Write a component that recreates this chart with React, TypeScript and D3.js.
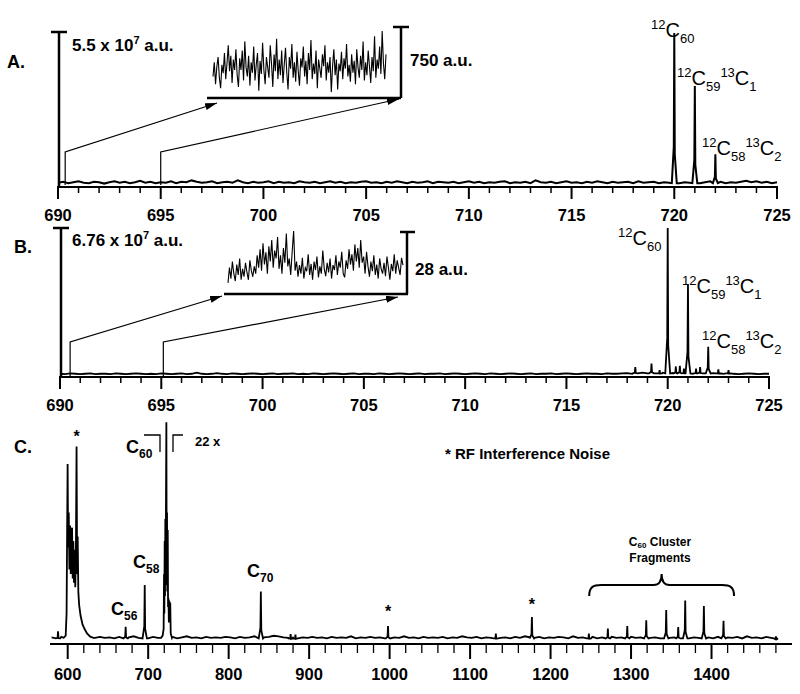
import React from "react";
import * as d3 from "d3";

// ---------- tick labels ----------
const abTickLabels = [690, 695, 700, 705, 710, 715, 720, 725];
const cTickLabels = [600, 700, 800, 900, 1000, 1100, 1200, 1300, 1400];

// ---------- Panel A ----------
const aPeaks: [number, number][] = [
  [720, 1.0],
  [721, 0.65],
  [722, 0.2],
];
// baseline noise, units of 0.003, evenly spaced 690..725
const aBaseline = [
  4, 6, 3, 5, 7, 4, 3, 6, 5, 2, 5, 7, 4, 6, 3, 5, 8, 4, 6, 3, 5, 4, 7, 3, 6, 5, 9, 6, 4, 5,
  7, 3, 5, 6, 4, 9, 5, 3, 6, 4, 5, 7, 3, 6, 4, 5, 3, 7, 5, 4, 6, 3, 5, 7, 4, 6, 3, 5, 4, 6,
  7, 4, 5, 3, 6, 4, 7, 5, 3, 6, 4, 5, 7, 3, 6, 5, 4, 6, 3, 5, 7, 4, 6, 3, 5, 4, 6, 7, 3, 5,
  4, 6, 3, 9, 5, 4, 6, 3, 5, 7, 4, 5, 3, 6, 4, 7, 5, 3, 6, 4, 5, 6, 3, 7, 4, 5, 6, 3, 5, 4,
  6, 3, 5, 4, 6, 3, 5, 7, 4, 6, 3, 5, 4, 6, 8, 5, 7, 4, 6, 3, 5,
];
// zoomed noise trace (0..100 of the 750 a.u. bar)
const aInset = [
  30, 52, 18, 45, 60, 28, 12, 48, 35, 66, 26, 50, 78, 38, 62, 20, 56, 40, 72, 32, 14, 58, 40,
  70, 24, 84, 44, 30, 62, 16, 52, 36, 76, 24, 48, 66, 8, 54, 34, 82, 40, 18, 60, 44, 28, 78,
  50, 14, 64, 38, 88, 26, 56, 32, 70, 20, 48, 74, 36, 10, 60, 42, 80, 28, 52, 22, 68, 38, 16,
  58, 44, 76, 30, 54, 18, 66, 40, 86, 26, 50, 34, 70, 12, 56, 42, 28, 64, 46, 78, 24, 52, 36,
  60, 6, 46, 72, 32, 56, 10, 50, 38, 68, 26, 58, 42, 80, 30, 48, 22, 64, 36, 54, 18, 72, 44,
  28, 62, 40, 84, 24, 52, 32, 70, 46, 20, 60, 38, 92, 28, 56, 42, 76, 34, 100, 50, 26, 64,
];

// ---------- Panel B ----------
const bPeaks: [number, number][] = [
  [718.4, 0.05],
  [719.2, 0.075],
  [719.6, 0.03],
  [720, 1.0],
  [720.4, 0.055],
  [720.6, 0.06],
  [720.8, 0.04],
  [721, 0.615],
  [721.4, 0.04],
  [721.6, 0.05],
  [722, 0.19],
  [722.5, 0.035],
  [723, 0.03],
];
const bBaseline = [
  2, 1, 3, 2, 1, 2, 3, 1, 2, 2, 1, 3, 2, 1, 2, 3, 2, 1, 2, 1, 3, 2, 1, 2, 3, 1, 2, 5, 2, 1,
  2, 4, 2, 1, 3, 2, 1, 2, 3, 2, 1, 2, 3, 1, 2, 2, 3, 1, 2, 1, 3, 2, 1, 2, 3, 2, 1, 2, 3, 1,
  2, 2, 1, 3, 2, 1, 2, 3, 2, 1, 2, 3, 1, 2, 2, 3, 1, 2, 3, 2, 1, 2, 3, 2, 1, 3, 2, 1, 2, 3,
  2, 1, 2, 3, 1, 2, 2, 3, 1, 2, 3, 2, 1, 2, 3, 2, 2, 1, 3, 2, 2, 3, 4, 2, 3, 5, 3, 4, 2, 5,
  3, 4, 2, 3, 5, 2, 4, 3, 2, 4, 3, 2, 3, 2, 1, 2, 3, 2, 1, 2, 2,
];
const bInset = [
  15, 40, 22, 50, 30, 18, 45, 28, 55, 20, 38, 25, 48, 32, 20, 52, 35, 25, 42, 30, 60, 40, 70,
  35, 80, 45, 65, 30, 75, 50, 85, 40, 68, 55, 90, 38, 60, 30, 72, 48, 96, 42, 55, 28, 66, 100,
  35, 50, 25, 44, 30, 56, 22, 40, 34, 62, 28, 46, 20, 50, 36, 58, 24, 42, 30, 68, 38, 26, 48,
  32, 55, 22, 44, 36, 60, 28, 50, 40, 66, 30, 24, 52, 38, 70, 45, 62, 35, 78, 50, 72, 40, 85,
  48, 58, 30, 66, 42, 25, 50, 34, 60, 28, 45, 22, 55, 38, 30, 48, 26, 58, 40, 20, 46, 34, 62,
  30, 52, 40, 28, 56, 44,
];

// ---------- Panel C ----------
const cPeaks: [number, number][] = [
  [588, 0.04],
  [672, 0.06],
  [695.7, 0.25],
  [840, 0.22],
  [877, 0.027],
  [883, 0.025],
  [998, 0.064],
  [1132, 0.029],
  [1176.8, 0.105],
  [1247.6, 0.029],
  [1271.2, 0.052],
  [1295.3, 0.064],
  [1318.9, 0.09],
  [1343.7, 0.136],
  [1358.6, 0.059],
  [1367.3, 0.18],
  [1390.5, 0.155],
  [1414.9, 0.087],
  [1480, 0.016],
];
const c600Cluster: [number, number][] = [
  [595, 0.01], [597.5, 0.02], [598.6, 0.12], [599.3, 0.5], [599.9, 0.8], [600.5, 0.42],
  [601.3, 0.58], [602.1, 0.32], [602.9, 0.52], [603.8, 0.3], [604.6, 0.5], [605.4, 0.51],
  [606.2, 0.28], [607, 0.45], [607.8, 0.26], [608.6, 0.41], [609.4, 0.24], [610.2, 0.4],
  [611, 0.88], [611.7, 0.3], [612.4, 0.47], [613.2, 0.22], [614.2, 0.16], [616, 0.11],
  [618.5, 0.07], [621, 0.05], [624, 0.03], [628, 0.015], [632, 0.01],
];
const cC60Complex: [number, number][] = [
  [716, 0.01], [718, 0.02], [719.2, 0.05], [719.7, 0.3], [720.1, 0.12], [720.5, 0.45],
  [720.9, 0.2], [721.3, 0.55], [721.7, 0.25], [722.1, 0.61], [722.6, 0.99], [723.0, 0.3],
  [723.4, 0.58], [723.8, 0.22], [724.3, 0.5], [724.7, 0.15], [725.2, 0.19], [725.7, 0.08],
  [726.2, 0.18], [726.8, 0.1], [727.4, 0.17], [728, 0.03], [729.5, 0.01],
];
// baseline noise, units of 0.0024, every 6 m/z from 580 to 1480
const cBaseline = [
  5, 4, 6, 3, 5, 4, 7, 3, 5, 4, 6, 4, 5, 3, 6, 4, 5, 7, 4, 5, 3, 6, 4, 5, 4, 6, 3, 5, 7, 4,
  5, 3, 6, 4, 5, 4, 6, 5, 3, 6, 4, 5, 7, 4, 5, 6, 8, 7, 5, 4, 6, 3, 5, 4, 6, 4, 5, 3, 6, 4,
  5, 4, 7, 3, 5, 4, 6, 4, 5, 3, 6, 5, 4, 7, 4, 5, 3, 6, 4, 5, 4, 6, 3, 5, 4, 7, 5, 4, 6, 3,
  5, 4, 6, 4, 5, 3, 6, 4, 7, 5, 4, 6, 3, 5, 4, 6, 5, 3, 7, 4, 5, 4, 6, 3, 5, 4, 6, 4, 5, 3,
  6, 4, 5, 7, 4, 5, 3, 6, 4, 5, 4, 6, 3, 5, 4, 6, 5, 3, 6, 4, 5, 4, 6, 3, 7, 4, 5, 3, 6, 4, 6,
];

type Pt = [number, number];

function buildSpectrum(
  lo: number,
  hi: number,
  base: number[],
  baseUnit: number,
  peaks: Pt[],
  halfW: number,
  clusters: Pt[][] = []
): Pt[] {
  const step = (hi - lo) / (base.length - 1);
  let pts: Pt[] = base.map((v, i) => [lo + i * step, v * baseUnit]);
  clusters.forEach((cl) => {
    const a = cl[0][0];
    const b = cl[cl.length - 1][0];
    pts = pts.filter((p) => p[0] < a || p[0] > b);
    pts = pts.concat(cl);
  });
  peaks.forEach(([m, h]) => {
    pts = pts.filter((p) => p[0] < m - halfW * 1.5 || p[0] > m + halfW * 1.5);
    pts.push([m - halfW * 1.5, baseUnit * 3]);
    pts.push([m - halfW * 0.3, h * 0.25]);
    pts.push([m, h]);
    pts.push([m + halfW * 0.3, h * 0.2]);
    pts.push([m + halfW * 1.5, baseUnit * 3]);
  });
  return pts.sort((p, q) => p[0] - q[0]);
}

const FONT = "'Liberation Sans', Arial, Helvetica, sans-serif";

type Part = [string, "sup" | "main" | "sub"];
function Formula({
  x,
  y,
  parts,
  main,
  small,
  weight = "normal",
}: {
  x: number;
  y: number;
  parts: Part[];
  main: number;
  small: number;
  weight?: string;
}) {
  let cur = 0;
  const offs: Record<string, number> = { sup: -main * 0.42, main: 0, sub: main * 0.3 };
  return (
    <text x={x} y={y} fontFamily={FONT} fontWeight={weight} fill="#000">
      {parts.map(([t, k], i) => {
        const target = offs[k];
        const dy = target - cur;
        cur = target;
        return (
          <tspan key={i} dy={dy} fontSize={k === "main" ? main : small}>
            {t}
          </tspan>
        );
      })}
    </text>
  );
}

export default function App() {
  // scales
  const xA = d3.scaleLinear().domain([690, 725]).range([58, 777]);
  const yA = d3.scaleLinear().domain([0, 1]).range([184.5, 33]);
  const xB = d3.scaleLinear().domain([690, 725]).range([60, 769]);
  const yB = d3.scaleLinear().domain([0, 1]).range([374.5, 228]);
  const xC = d3.scaleLinear().domain([578, 1500]).range([50, 792]);
  const yC = d3.scaleLinear().domain([0, 1]).range([640, 420]);

  const axA = 187;
  const axB = 377;
  const axC = 644;

  const specA = buildSpectrum(690, 725, aBaseline, 0.003, aPeaks, 0.08);
  const specB = buildSpectrum(690, 725, bBaseline, 0.0025, bPeaks, 0.08);
  const specC = buildSpectrum(580, 1480, cBaseline, 0.0024, cPeaks, 1.8, [c600Cluster, cC60Complex]);

  const lineA = d3.line<Pt>().x((d) => xA(d[0])).y((d) => yA(d[1]));
  const lineB = d3.line<Pt>().x((d) => xB(d[0])).y((d) => yB(d[1]));
  const lineC = d3.line<Pt>().x((d) => xC(d[0])).y((d) => yC(d[1]));

  const insAx = d3.scaleLinear().domain([0, aInset.length - 1]).range([213, 386]);
  const insAy = d3.scaleLinear().domain([0, 100]).range([96, 31]);
  const insBx = d3.scaleLinear().domain([0, bInset.length - 1]).range([228, 403]);
  const insBy = d3.scaleLinear().domain([0, 100]).range([292, 231]);
  const insLineA = d3.line<number>().x((_, i) => insAx(i)).y((d) => insAy(d));
  const insLineB = d3.line<number>().x((_, i) => insBx(i)).y((d) => insBy(d));

  const abMinor = d3.range(690, 726, 1).filter((v) => v % 5 !== 0);
  const cMinor = d3.range(620, 1481, 20).filter((v) => v % 100 !== 0);

  const tickFont = { fontFamily: FONT, fontWeight: "bold" as const, fontSize: 16.5 };
  const lblFont = { fontFamily: FONT, fontWeight: "bold" as const, fontSize: 17 };

  const abAxis = (x: d3.ScaleLinear<number, number>, y: number) => (
    <g>
      <line x1={x(690) - 1} x2={x(725) + 1} y1={y} y2={y} stroke="#000" strokeWidth={2.2} />
      {abTickLabels.map((v) => (
        <line key={"M" + v} x1={x(v)} x2={x(v)} y1={y} y2={y + 12} stroke="#000" strokeWidth={2} />
      ))}
      {abMinor.map((v) => (
        <line key={"m" + v} x1={x(v)} x2={x(v)} y1={y} y2={y + 6} stroke="#000" strokeWidth={1.5} />
      ))}
      {abTickLabels.map((v) => (
        <text key={"t" + v} x={x(v)} y={y + 34} textAnchor="middle" {...tickFont}>
          {v}
        </text>
      ))}
    </g>
  );

  const arrow = (pts: Pt[], key: string) => (
    <path
      key={key}
      d={d3.line()(pts) || ""}
      fill="none"
      stroke="#000"
      strokeWidth={1.2}
      markerEnd="url(#arrowhead)"
    />
  );

  // curly brace over cluster fragments
  const bx0 = xC(1248);
  const bx1 = xC(1428);
  const bxm = xC(1338);
  const byTop = 585;
  const braceD = `M${bx0},${byTop + 11} C${bx0},${byTop + 2} ${bx0 + 4},${byTop} ${bx0 + 12},${byTop}
    L${bxm - 8},${byTop} C${bxm - 3},${byTop} ${bxm},${byTop - 4} ${bxm},${byTop - 11}
    C${bxm},${byTop - 4} ${bxm + 3},${byTop} ${bxm + 8},${byTop}
    L${bx1 - 12},${byTop} C${bx1 - 4},${byTop} ${bx1},${byTop + 2} ${bx1},${byTop + 11}`;

  return (
    <svg
      width={800}
      height={694}
      viewBox="0 0 800 694"
      style={{ position: "absolute", left: 0, top: 0, background: "#fff" }}
    >
      <defs>
        <marker
          id="arrowhead"
          viewBox="0 0 10 10"
          refX={10}
          refY={5}
          markerWidth={12}
          markerHeight={7}
          markerUnits="userSpaceOnUse"
          orient="auto"
          preserveAspectRatio="none"
        >
          <path d="M0,0 L10,5 L0,10 z" fill="#000" />
        </marker>
      </defs>
      <rect width={800} height={694} fill="#fff" />

      {/* ================= Panel A ================= */}
      <text x={7} y={68} {...lblFont} fontSize={18}>A.</text>
      <line x1={xA(690) + 1} x2={xA(690) + 1} y1={32} y2={axA} stroke="#000" strokeWidth={2.5} />
      <line x1={xA(690) - 7} x2={xA(690) + 9} y1={32} y2={32} stroke="#000" strokeWidth={2.5} />
      <text x={72} y={51} {...lblFont}>
        5.5 x 10<tspan fontSize={11} dy={-7}>7</tspan>
        <tspan dy={7}> a.u.</tspan>
      </text>
      {/* inset */}
      <path d={insLineA(aInset) || ""} fill="none" stroke="#000" strokeWidth={1.1} />
      <line x1={207} x2={401} y1={98} y2={98} stroke="#000" strokeWidth={2.5} />
      <line x1={401} x2={401} y1={27} y2={98} stroke="#000" strokeWidth={2.5} />
      <line x1={393} x2={409} y1={27} y2={27} stroke="#000" strokeWidth={2.5} />
      <text x={410} y={66} {...lblFont}>750 a.u.</text>
      {arrow([[xA(690.35), axA - 2], [xA(690.35), 152], [217, 103]], "a1")}
      {arrow([[xA(695), axA - 2], [xA(695), 152], [399, 99]], "a2")}
      <path d={lineA(specA) || ""} fill="none" stroke="#000" strokeWidth={2} />
      {abAxis(xA, axA)}
      <Formula x={651} y={37} main={20} small={13} parts={[["12", "sup"], ["C", "main"], ["60", "sub"]]} />
      <Formula
        x={677}
        y={85}
        main={20}
        small={13}
        parts={[["12", "sup"], ["C", "main"], ["59", "sub"], ["13", "sup"], ["C", "main"], ["1", "sub"]]}
      />
      <Formula
        x={702}
        y={155}
        main={20}
        small={13}
        parts={[["12", "sup"], ["C", "main"], ["58", "sub"], ["13", "sup"], ["C", "main"], ["2", "sub"]]}
      />

      {/* ================= Panel B ================= */}
      <text x={14} y={253} {...lblFont} fontSize={18}>B.</text>
      <line x1={xB(690) + 1} x2={xB(690) + 1} y1={228} y2={axB} stroke="#000" strokeWidth={2.5} />
      <line x1={xB(690) - 7} x2={xB(690) + 9} y1={228} y2={228} stroke="#000" strokeWidth={2.5} />
      <text x={72} y={246} {...lblFont}>
        6.76 x 10<tspan fontSize={11} dy={-7}>7</tspan>
        <tspan dy={7}> a.u.</tspan>
      </text>
      <path d={insLineB(bInset) || ""} fill="none" stroke="#000" strokeWidth={1.1} />
      <line x1={224} x2={408} y1={294} y2={294} stroke="#000" strokeWidth={2.5} />
      <line x1={407} x2={407} y1={232} y2={294} stroke="#000" strokeWidth={2.5} />
      <line x1={400} x2={415} y1={232} y2={232} stroke="#000" strokeWidth={2.5} />
      <text x={415} y={275} {...lblFont}>28 a.u.</text>
      {arrow([[xB(690.5), axB - 1], [xB(690.5), 342], [222, 296]], "b1")}
      {arrow([[xB(695.1), axB - 1], [xB(695.1), 342], [398, 297]], "b2")}
      <path d={lineB(specB) || ""} fill="none" stroke="#000" strokeWidth={1.8} />
      {abAxis(xB, axB)}
      <Formula x={618} y={245} main={20} small={13} parts={[["12", "sup"], ["C", "main"], ["60", "sub"]]} />
      <Formula
        x={682}
        y={293}
        main={20}
        small={13}
        parts={[["12", "sup"], ["C", "main"], ["59", "sub"], ["13", "sup"], ["C", "main"], ["1", "sub"]]}
      />
      <Formula
        x={702}
        y={348}
        main={20}
        small={13}
        parts={[["12", "sup"], ["C", "main"], ["58", "sub"], ["13", "sup"], ["C", "main"], ["2", "sub"]]}
      />

      {/* ================= Panel C ================= */}
      <text x={14} y={453} {...lblFont} fontSize={18}>C.</text>
      <path d={lineC(specC) || ""} fill="none" stroke="#000" strokeWidth={1.8} />
      <line x1={xC(578)} x2={xC(1500)} y1={axC} y2={axC} stroke="#000" strokeWidth={2.2} />
      {cTickLabels.map((v) => (
        <line key={"CM" + v} x1={xC(v)} x2={xC(v)} y1={axC} y2={axC + 15} stroke="#000" strokeWidth={2} />
      ))}
      {cMinor.map((v) => (
        <line key={"Cm" + v} x1={xC(v)} x2={xC(v)} y1={axC} y2={axC + 9} stroke="#000" strokeWidth={1.3} />
      ))}
      {cTickLabels.map((v) => (
        <text key={"Ct" + v} x={xC(v)} y={axC + 36} textAnchor="middle" {...tickFont}>
          {v}
        </text>
      ))}
      {/* annotations */}
      <text x={xC(611)} y={442} textAnchor="middle" {...lblFont} fontSize={16}>*</text>
      <text x={xC(998)} y={617} textAnchor="middle" {...lblFont} fontSize={16}>*</text>
      <text x={xC(1176.8)} y={610} textAnchor="middle" {...lblFont} fontSize={16}>*</text>
      <Formula x={126} y={453} main={18} small={12} weight="bold" parts={[["C", "main"], ["60", "sub"]]} />
      <path d="M144,435 L160,435 L160,452" fill="none" stroke="#000" strokeWidth={1.3} />
      <path d="M173,452 L173,435 L183,435" fill="none" stroke="#000" strokeWidth={1.3} />
      <text x={195} y={446} {...lblFont} fontSize={13}>22 x</text>
      <Formula x={133} y={568} main={18} small={12} weight="bold" parts={[["C", "main"], ["58", "sub"]]} />
      <Formula x={111} y={615} main={18} small={12} weight="bold" parts={[["C", "main"], ["56", "sub"]]} />
      <Formula x={247} y={577} main={18} small={12} weight="bold" parts={[["C", "main"], ["70", "sub"]]} />
      <text x={445} y={459} {...lblFont} fontSize={15}>* RF Interference Noise</text>
      <text x={660} y={546} textAnchor="middle" fontFamily={FONT} fontWeight="bold" fontSize={12}>
        C<tspan fontSize={8} dy={2}>60</tspan>
        <tspan dy={-2}> Cluster</tspan>
      </text>
      <text x={660} y={562} textAnchor="middle" fontFamily={FONT} fontWeight="bold" fontSize={12}>
        Fragments
      </text>
      <path d={braceD} fill="none" stroke="#000" strokeWidth={2} />
    </svg>
  );
}
